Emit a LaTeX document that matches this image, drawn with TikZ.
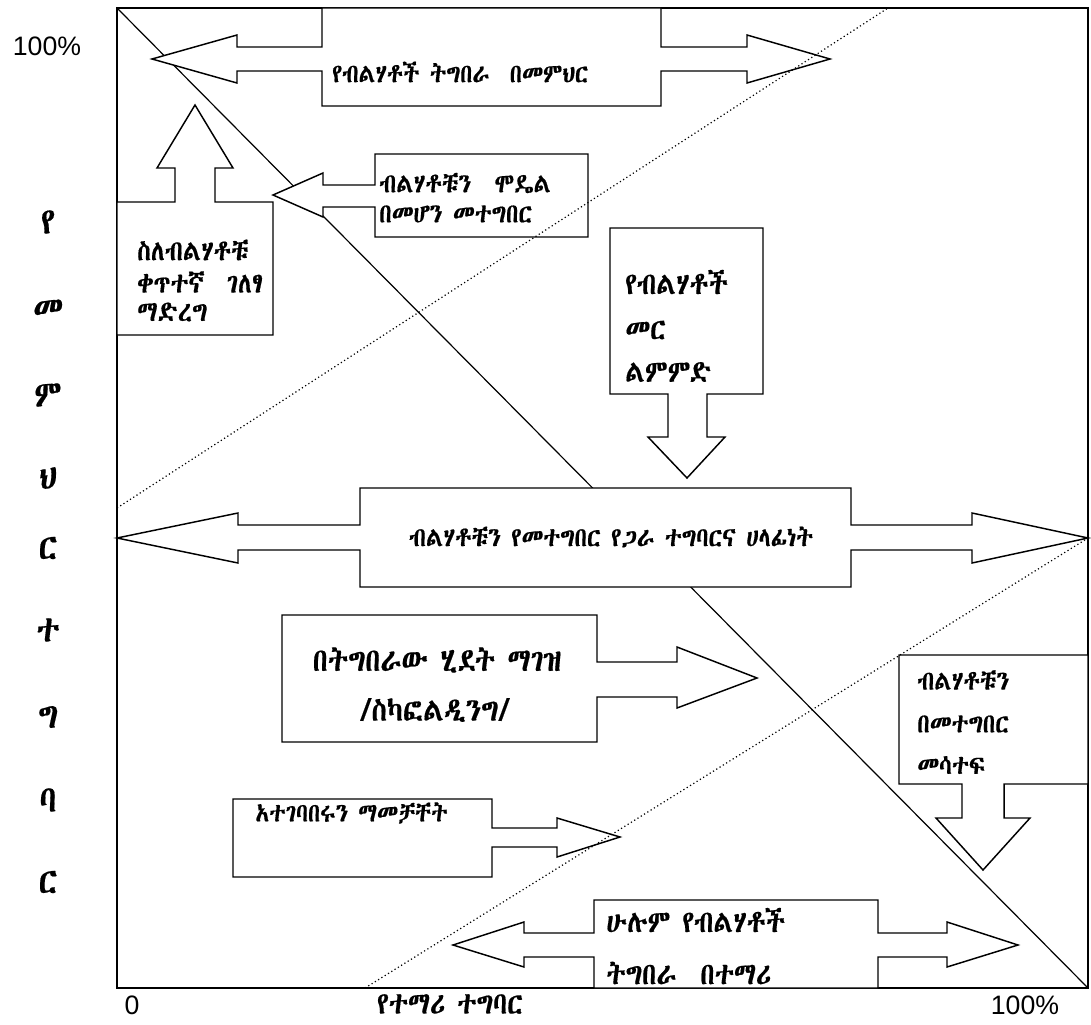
\documentclass[tikz,border=0pt]{standalone}
\usepackage{graphicx}
\usepackage{fontspec}
\setmainfont{Liberation Sans}
\IfFontExistsTF{Abyssinica SIL}{\newfontfamily\ethfont[FakeBold=0.5]{Abyssinica SIL}}{%
  \IfFontExistsTF{FreeSerif}{\newfontfamily\ethfont[FakeBold=0.5]{FreeSerif}}{\newfontfamily\ethfont{DejaVu Sans}}}
\newcommand{\ethtxt}[2]{{\ethfont\fontsize{#1}{#1}\selectfont\scalebox{1}[1.15]{#2}}}
\begin{document}
\begin{tikzpicture}[x=0.75pt,y=-0.75pt,
  frame/.style={draw=black, line width=1.1pt},
  blk/.style={draw=black, fill=white, line width=1.1pt, line join=miter},
  dline/.style={draw=black, dotted, line width=0.9pt},
  sline/.style={draw=black, line width=0.9pt},
  eth/.style={inner sep=0pt, anchor=west},
  ethc/.style={inner sep=0pt, anchor=center},
  axl/.style={font=\fontsize{20}{20}\selectfont, inner sep=0pt}]
\fill[white] (0,0) rectangle (1091,1024);
\useasboundingbox (0,0) rectangle (1091,1024);
% frame corners
\coordinate (tl) at (117,8);
\coordinate (tr) at (1088,8);
\coordinate (bl) at (117,988);
\coordinate (br) at (1088,988);
\draw[frame] (tl) rectangle (br);
% solid diagonal
\draw[sline] (tl) -- (br);
% top double arrow
\draw[blk] (322,8) -- (661,8) -- (661,47) -- (747,47) -- (747,35) -- (830,59) -- (747,83) -- (747,71) -- (661,71) -- (661,106) -- (322,106) -- (322,71) -- (237,71) -- (237,83) -- (152,59) -- (237,35) -- (237,47) -- (322,47) -- cycle;
% model arrow (left)
\draw[blk] (375,154) -- (588,154) -- (588,237) -- (375,237) -- (375,207) -- (323,207) -- (323,217) -- (273,195) -- (323,173) -- (323,185) -- (375,185) -- cycle;
% up arrow (explicit instruction)
\draw[blk] (117,202) -- (175,202) -- (175,168) -- (157,168) -- (195,105) -- (233,168) -- (215,168) -- (215,202) -- (273,202) -- (273,335) -- (117,335) -- cycle;
% guided practice down arrow
\draw[blk] (610,228) -- (763,228) -- (763,394) -- (707,394) -- (707,437) -- (725,437) -- (687,478) -- (648,437) -- (668,437) -- (668,394) -- (610,394) -- cycle;
% central double arrow
\draw[blk] (360,488) -- (851,488) -- (851,525) -- (972,525) -- (972,513) -- (1088,538) -- (972,563) -- (972,550) -- (851,550) -- (851,587) -- (360,587) -- (360,550) -- (238,550) -- (238,563) -- (117,538) -- (238,513) -- (238,525) -- (360,525) -- cycle;
% scaffolding arrow
\draw[blk] (282,615) -- (597,615) -- (597,662) -- (677,662) -- (677,647) -- (757,678) -- (677,708) -- (677,697) -- (597,697) -- (597,742) -- (282,742) -- cycle;
% participate down arrow
\draw[blk] (899,655) -- (1088,655) -- (1088,784) -- (1004,784) -- (1004,818) -- (1030,818) -- (983,870) -- (936,818) -- (962,818) -- (962,784) -- (899,784) -- cycle;
% facilitate arrow
\draw[blk] (233,799) -- (492,799) -- (492,828) -- (557,828) -- (557,818) -- (620,837) -- (557,857) -- (557,847) -- (492,847) -- (492,877) -- (233,877) -- cycle;
% bottom double arrow
\draw[blk] (594,900) -- (878,900) -- (878,933) -- (947,933) -- (947,922) -- (1018,945) -- (947,967) -- (947,957) -- (878,957) -- (878,988) -- (594,988) -- (594,957) -- (524,957) -- (524,967) -- (453,945) -- (524,922) -- (524,933) -- (594,933) -- cycle;
% dotted lines
\coordinate (d1a) at (117,508);
\coordinate (d1b) at (888,8);
\coordinate (d2a) at (365,988);
\coordinate (d2b) at (1088,538);
\draw[dline] (d1a) -- (d1b);
\draw[dline] (d2a) -- (d2b);
% texts
\node[eth] (t1) at (332,72) {\ethtxt{17}{የብልሃቶች ትግበራ\ \ በመምህር}};
\node[eth] (t2a) at (379,183) {\ethtxt{17.5}{ብልሃቶቹን\quad ሞዴል}};
\node[eth] (t2b) at (379,214) {\ethtxt{17.5}{በመሆን መተግበር}};
\node[eth] (t3a) at (137,250) {\ethtxt{18.5}{ስለብልሃቶቹ}};
\node[eth] (t3b) at (137,282) {\ethtxt{18.5}{ቀጥተኛ\ \ ገለፃ}};
\node[eth] (t3c) at (137,312) {\ethtxt{18.5}{ማድረግ}};
\node[eth] (t4a) at (625,282) {\ethtxt{20}{የብልሃቶች}};
\node[eth] (t4b) at (625,330) {\ethtxt{20}{መር}};
\node[eth] (t4c) at (625,372) {\ethtxt{20}{ልምምድ}};
\node[ethc] (t5) at (611,537) {\ethtxt{17.5}{ብልሃቶቹን የመተግበር የጋራ ተግባርና ሀላፊነት}};
\node[ethc] (t6a) at (437,660) {\ethtxt{21}{በትግበራው ሂደት ማገዝ}};
\node[ethc] (t6b) at (435,710) {\ethtxt{21}{/ስካፎልዲንግ/}};
\node[eth] (t7a) at (917,680) {\ethtxt{17.5}{ብልሃቶቹን}};
\node[eth] (t7b) at (917,724) {\ethtxt{17.5}{በመተግበር}};
\node[eth] (t7c) at (917,765) {\ethtxt{17.5}{መሳተፍ}};
\node[eth] (t8) at (255,813) {\ethtxt{17}{አተገባበሩን ማመቻቸት}};
\node[eth] (t9a) at (606,920) {\ethtxt{20}{ሁሉም የብልሃቶች}};
\node[eth] (t9b) at (606,973) {\ethtxt{20}{ትግበራ\ \ በተማሪ}};
% axis labels
\node[axl] (y100) at (47,46) {100\%};
\node[axl] (x0) at (132,1005) {0};
\node[axl] (x100) at (1025,1005) {100\%};
\node[ethc] (xlab) at (450,1004) {\ethtxt{20}{የተማሪ ተግባር}};
\foreach \c/\yy [count=\i] in {የ/222,መ/310,ም/395,ህ/478,ር/548,ተ/630,ግ/717,ባ/800,ር/882}
  \node[ethc] (v\i) at (48,\yy) {\ethtxt{24}{\c}};
\end{tikzpicture}
\end{document}
